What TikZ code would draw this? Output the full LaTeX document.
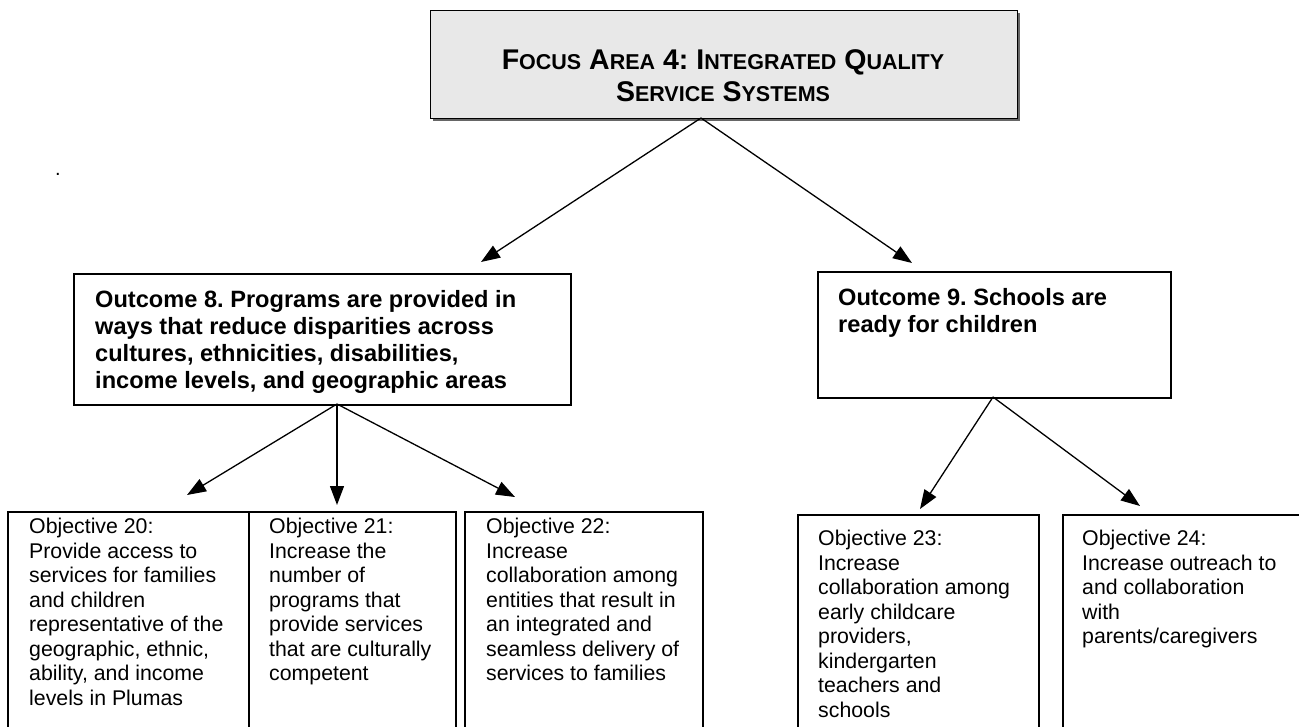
\documentclass[tikz,border=0pt]{standalone}
\usepackage{fontspec}
\setmainfont{Liberation Sans}
\usetikzlibrary{arrows.meta}
\frenchspacing
\newcommand\smallcapsish[1]{{\fontsize{21.5}{22}\selectfont #1}}
\tikzset{
  boxline/.style={draw=black, line width=1.6pt},
  conn/.style={line width=1.3pt, -{Triangle[length=19pt,width=14pt]}},
  outtext/.style={font=\bfseries\fontsize{23.6}{27.2}\selectfont, align=left, inner sep=0pt, anchor=north west},
  objtext/.style={font=\fontsize{21.3}{24.5}\selectfont, align=left, inner sep=0pt, anchor=north west},
}
\begin{document}
\begin{tikzpicture}[x=1pt,y=-1pt]
\clip (0,0) rectangle (1299,726);
\fill[white] (0,0) rectangle (1299,726);
% top box
\fill[black!60] (433,13) rectangle (1020,121);
\node[draw=black, line width=1pt, fill=black!9, minimum width=587pt, minimum height=108pt, anchor=north west, inner sep=0pt] (top) at (430,10) {};
\node[font=\bfseries\fontsize{28.5}{32}\selectfont, align=center, inner sep=0pt, anchor=north] (toptext) at (723,49) {F\smallcapsish{OCUS} A\smallcapsish{REA} 4: I\smallcapsish{NTEGRATED} Q\smallcapsish{UALITY}\\ S\smallcapsish{ERVICE} S\smallcapsish{YSTEMS}};
\node[font=\fontsize{20}{22}\selectfont, inner sep=0pt, anchor=base] (dot) at (58,175) {.};
% outcome boxes
\node[boxline, minimum width=497pt, minimum height=131pt, anchor=north west, inner sep=0pt] (o8) at (73,273) {};
\node[outtext] (o8t) at (95,290) {Outcome 8. Programs are provided in\\ways that reduce disparities across\\cultures, ethnicities, disabilities,\\income levels, and geographic areas};
\node[boxline, minimum width=353pt, minimum height=126pt, anchor=north west, inner sep=0pt] (o9) at (817,271) {};
\node[outtext] (o9t) at (838,288) {Outcome 9. Schools are\\ready for children};
% objective boxes
\node[boxline, minimum width=241pt, minimum height=240pt, anchor=north west, inner sep=0pt] (b20) at (7,511) {};
\node[boxline, minimum width=207pt, minimum height=240pt, anchor=north west, inner sep=0pt] (b21) at (248,511) {};
\node[boxline, minimum width=238pt, minimum height=240pt, anchor=north west, inner sep=0pt] (b22) at (464,511) {};
\node[boxline, minimum width=241pt, minimum height=240pt, anchor=north west, inner sep=0pt] (b23) at (797,514) {};
\node[boxline, minimum width=260pt, minimum height=240pt, anchor=north west, inner sep=0pt] (b24) at (1062,514) {};
\node[objtext] (t20) at (29,518) {Objective 20:\\Provide access to\\services for families\\and children\\representative of the\\geographic, ethnic,\\ability, and income\\levels in Plumas};
\node[objtext] (t21) at (269,518) {Objective 21:\\Increase the\\number of\\programs that\\provide services\\that are culturally\\competent};
\node[objtext] (t22) at (486,518) {Objective 22:\\Increase\\collaboration among\\entities that result in\\an integrated and\\seamless delivery of\\services to families};
\node[objtext] (t23) at (818,530) {Objective 23:\\Increase\\collaboration among\\early childcare\\providers,\\kindergarten\\teachers and\\schools};
\node[objtext] (t24) at (1082,530) {Objective 24:\\Increase outreach to\\and collaboration\\with\\parents/caregivers};
% connector coordinates
\coordinate (topapex) at (701,118);
\coordinate (tip8) at (481,262);
\coordinate (tip9) at (912,263);
\coordinate (apex8) at (337,404);
\coordinate (tip20) at (187,495);
\coordinate (tip21) at (337,505);
\coordinate (tip22) at (515,497);
\coordinate (apex9) at (993,397);
\coordinate (tip23) at (920,509);
\coordinate (tip24) at (1140,506);
\draw[conn] (topapex) -- (tip8);
\draw[conn] (topapex) -- (tip9);
\draw[conn] (apex8) -- (tip20);
\draw[conn] (apex8) -- (tip21);
\draw[conn] (apex8) -- (tip22);
\draw[conn] (apex9) -- (tip23);
\draw[conn] (apex9) -- (tip24);
\end{tikzpicture}
\end{document}
